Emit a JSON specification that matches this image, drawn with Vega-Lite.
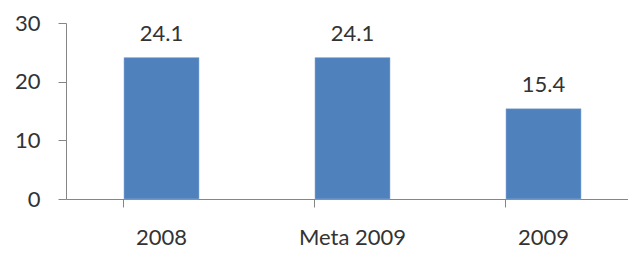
{
  "$schema": "https://vega.github.io/schema/vega-lite/v6.json",
  "autosize": {"type": "none"},
  "padding": {"left": 66, "top": 23, "right": 0, "bottom": 54},
  "width": 562,
  "height": 176,
  "background": "white",
  "config": {"view": {"stroke": null}, "font": "Lato"},
  "data": {"values": [
    {"category": "2008", "value": 24.1},
    {"category": "Meta 2009", "value": 24.1},
    {"category": "2009", "value": 15.4}
  ]},
  "encoding": {
    "x": {"field": "category", "type": "nominal", "sort": null,
      "scale": {"range": [0, 573], "paddingInner": 0.607, "paddingOuter": 0.3035},
      "axis": {"title": null, "labelAngle": 0, "bandPosition": 0, "tickSize": 8, "domainColor": "#868686", "tickColor": "#868686", "labelFontSize": 22, "labelColor": "#333333", "labelPadding": 20, "grid": false}},
    "y": {"field": "value", "type": "quantitative",
      "scale": {"domain": [0, 30]},
      "axis": {"title": null, "values": [0, 10, 20, 30], "tickSize": 8, "domainColor": "#868686", "tickColor": "#868686", "labelFontSize": 22, "labelColor": "#333333", "labelPadding": 18, "grid": false}}
  },
  "layer": [
    {"mark": {"type": "bar", "color": "#4F81BD", "stroke": "#9DB6DA", "strokeWidth": 0.5}},
    {"mark": {"type": "text", "baseline": "alphabetic", "dy": -17, "fontSize": 22, "color": "#333333", "font": "Lato"},
     "encoding": {"text": {"field": "value", "type": "quantitative", "format": ".1f"}}}
  ]
}
